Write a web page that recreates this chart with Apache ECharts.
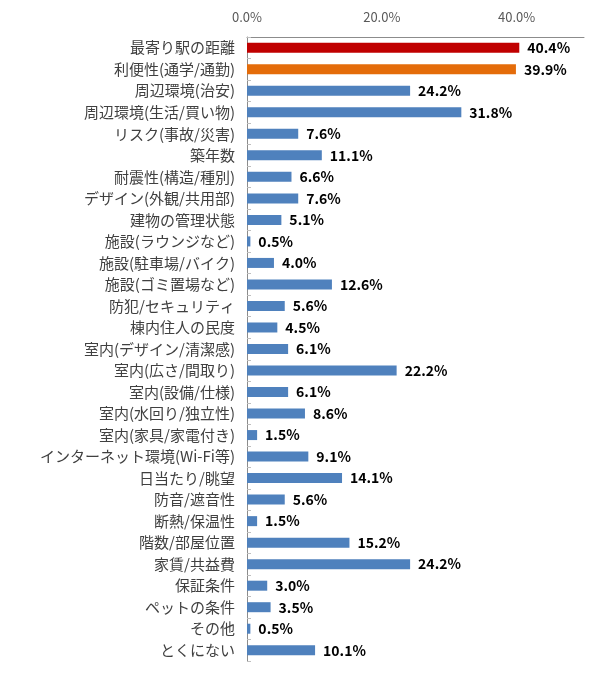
<!DOCTYPE html>
<html>
<head>
<meta charset="utf-8">
<script src="https://cdn.jsdelivr.net/npm/echarts@6/dist/echarts.min.js"></script>
<style>
  html, body { margin: 0; padding: 0; background: #fff; }
  #chart { width: 594px; height: 680px; }
</style>
</head>
<body>
<div id="chart"></div>
<script>
var categories = [
  '最寄り駅の距離', '利便性(通学/通勤)', '周辺環境(治安)', '周辺環境(生活/買い物)',
  'リスク(事故/災害)', '築年数', '耐震性(構造/種別)', 'デザイン(外観/共用部)',
  '建物の管理状態', '施設(ラウンジなど)', '施設(駐車場/バイク)', '施設(ゴミ置場など)',
  '防犯/セキュリティ', '棟内住人の民度', '室内(デザイン/清潔感)', '室内(広さ/間取り)',
  '室内(設備/仕様)', '室内(水回り/独立性)', '室内(家具/家電付き)', 'インターネット環境(Wi-Fi等)',
  '日当たり/眺望', '防音/遮音性', '断熱/保温性', '階数/部屋位置',
  '家賃/共益費', '保証条件', 'ペットの条件', 'その他', 'とくにない'
];
var values = [
  40.4, 39.9, 24.2, 31.8, 7.6, 11.1, 6.6, 7.6, 5.1, 0.5, 4.0, 12.6, 5.6, 4.5, 6.1,
  22.2, 6.1, 8.6, 1.5, 9.1, 14.1, 5.6, 1.5, 15.2, 24.2, 3.0, 3.5, 0.5, 10.1
];
var highlightColors = ['#C00000', '#E46C0A'];
var baseColor = '#4F81BD';

var chart = echarts.init(document.getElementById('chart'));
var font = '"Noto Sans CJK JP", "Noto Sans", sans-serif';

var option = {
  animation: false,
  textStyle: { fontFamily: font },
  grid: { left: 247, right: 10, top: 37, bottom: 19 },
  xAxis: {
    type: 'value',
    position: 'top',
    min: 0,
    max: 50,
    interval: 20,
    axisLine: { show: true, lineStyle: { color: '#8c8c8c', width: 1 } },
    axisTick: { show: false },
    splitLine: { show: false },
    axisLabel: {
      showMaxLabel: false,
      color: '#595959',
      fontSize: 13,
      margin: 13,
      fontFamily: font,
      formatter: function (v) { return v.toFixed(1) + '%'; }
    }
  },
  yAxis: {
    type: 'category',
    inverse: true,
    data: categories,
    axisLine: { show: true, lineStyle: { color: '#8c8c8c', width: 1 } },
    axisTick: { show: true, inside: true, length: 4, lineStyle: { color: '#bfbfbf' } },
    axisLabel: { color: '#404040', fontSize: 15, margin: 12, fontFamily: font }
  },
  series: [{
    type: 'bar',
    barWidth: 10,
    data: values.map(function (v, i) {
      return { value: v, itemStyle: { color: highlightColors[i] || baseColor } };
    }),
    label: {
      show: true,
      position: 'right',
      distance: 8,
      color: '#000',
      fontWeight: 'bold',
      fontSize: 14,
      fontFamily: font,
      formatter: function (p) { return p.value.toFixed(1) + '%'; }
    }
  }]
};
chart.setOption(option);
</script>
</body>
</html>
